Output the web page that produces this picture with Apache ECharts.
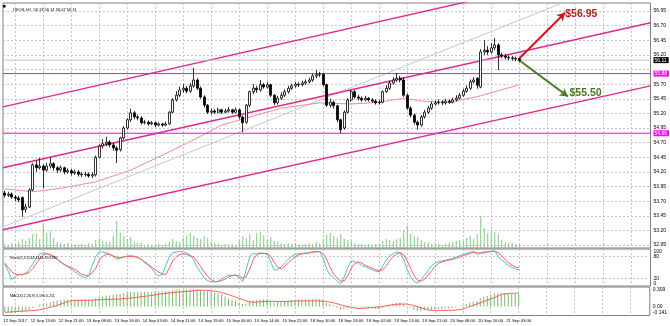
<!DOCTYPE html>
<html><head><meta charset="utf-8">
<script src="https://cdn.jsdelivr.net/npm/echarts@6/dist/echarts.min.js"></script>
<style>html,body{margin:0;padding:0;background:#fff}#c{width:670px;height:326px}</style>
</head><body><div id="c"></div>
<script>
// ---------------- DATA ----------------
const N_SLOTS = 185; // bar slots across the chart width (incl. empty shift area)
const opens = [53.84,53.80,53.82,53.77,53.75,53.76,53.56,53.60,53.89,54.32,
54.27,54.30,54.23,54.30,54.34,54.27,54.23,54.27,54.20,54.22,
54.18,54.20,54.16,54.15,54.16,54.13,54.15,54.45,54.64,54.68,
54.71,54.66,54.61,54.58,54.78,54.95,55.09,55.21,55.14,55.12,
55.04,55.05,55.02,55.04,55.00,55.02,55.00,55.02,55.22,55.43,
55.51,55.60,55.63,55.58,55.67,55.77,55.63,55.48,55.34,55.22,
55.24,55.22,55.26,55.22,55.24,55.26,55.22,55.26,55.14,55.05,
55.34,55.57,55.63,55.60,55.69,55.65,55.69,55.51,55.38,55.46,
55.51,55.57,55.63,55.67,55.70,55.69,55.72,55.74,55.77,55.84,
55.86,55.87,55.69,55.34,55.39,55.33,55.09,54.95,55.22,55.43,
55.57,55.48,55.46,55.43,55.46,55.43,55.41,55.38,55.39,55.57,
55.63,55.72,55.77,55.80,55.77,55.51,55.29,55.17,55.05,55.00,
55.14,55.22,55.29,55.36,55.38,55.39,55.38,55.41,55.39,55.43,
55.46,55.51,55.58,55.63,55.74,55.80,55.65,56.25,56.28,56.25,
56.32,56.37,56.20,56.18,56.16,56.15,56.14,56.13];
const highs = [53.88,53.86,53.85,53.80,53.79,53.78,53.66,53.92,54.35,54.40,
54.44,54.33,54.36,54.45,54.37,54.30,54.31,54.29,54.26,54.25,
54.24,54.23,54.20,54.20,54.19,54.19,54.48,54.67,54.76,54.80,
54.74,54.70,54.64,54.80,54.98,55.12,55.28,55.24,55.18,55.15,
55.09,55.08,55.07,55.06,55.05,55.04,55.06,55.24,55.46,55.58,
55.66,55.70,55.67,55.72,55.98,55.80,55.66,55.51,55.36,55.28,
55.27,55.30,55.28,55.28,55.31,55.28,55.30,55.28,55.16,55.36,
55.59,55.70,55.67,55.77,55.72,55.74,55.71,55.53,55.50,55.56,
55.61,55.67,55.71,55.74,55.73,55.76,55.78,55.81,55.88,55.94,
55.91,55.89,55.71,55.45,55.42,55.35,55.11,55.25,55.46,55.60,
55.60,55.52,55.49,55.50,55.48,55.46,55.44,55.43,55.59,55.68,
55.76,55.82,55.89,55.84,55.82,55.54,55.32,55.20,55.08,55.17,
55.26,55.33,55.40,55.42,55.44,55.43,55.45,55.44,55.47,55.51,
55.55,55.62,55.68,55.78,55.82,55.82,56.30,56.45,56.35,56.40,
56.49,56.40,56.24,56.22,56.19,56.18,56.17,56.14];
const lows = [53.76,53.77,53.74,53.70,53.68,53.43,53.50,53.58,53.87,54.20,
54.24,53.92,54.20,54.26,54.22,54.18,54.20,54.16,54.17,54.14,
54.15,54.12,54.11,54.12,54.10,54.10,54.12,54.43,54.60,54.64,
54.62,54.56,54.35,54.55,54.75,54.92,55.05,55.10,55.08,55.01,
55.01,54.99,55.00,54.97,54.98,54.97,54.98,55.00,55.20,55.40,
55.48,55.55,55.54,55.55,55.64,55.60,55.45,55.30,55.19,55.18,
55.19,55.20,55.19,55.20,55.21,55.19,55.20,55.10,54.88,55.02,
55.31,55.53,55.55,55.57,55.62,55.62,55.48,55.34,55.35,55.43,
55.48,55.54,55.60,55.64,55.65,55.66,55.69,55.71,55.74,55.80,
55.82,55.66,55.31,55.30,55.28,55.05,54.86,54.92,55.20,55.40,
55.45,55.42,55.40,55.41,55.40,55.38,55.35,55.35,55.37,55.55,
55.60,55.69,55.74,55.73,55.48,55.26,55.13,55.01,54.92,54.97,
55.11,55.19,55.26,55.33,55.35,55.34,55.35,55.36,55.37,55.40,
55.44,55.48,55.55,55.60,55.71,55.62,55.63,56.20,56.20,56.22,
56.28,55.94,56.14,56.12,56.11,56.10,56.09,56.07];
const closes = [53.80,53.82,53.77,53.75,53.72,53.55,53.60,53.89,54.32,54.27,
54.30,54.23,54.30,54.34,54.27,54.23,54.27,54.20,54.22,54.18,
54.20,54.16,54.15,54.16,54.13,54.15,54.45,54.64,54.68,54.71,
54.66,54.61,54.57,54.78,54.95,55.09,55.21,55.14,55.12,55.04,
55.05,55.02,55.04,55.00,55.02,55.00,55.02,55.22,55.43,55.51,
55.60,55.63,55.58,55.67,55.77,55.63,55.48,55.34,55.22,55.24,
55.22,55.26,55.22,55.24,55.26,55.22,55.26,55.14,55.04,55.34,
55.57,55.63,55.60,55.69,55.65,55.69,55.51,55.38,55.46,55.51,
55.57,55.63,55.67,55.70,55.69,55.72,55.74,55.77,55.84,55.86,
55.87,55.69,55.34,55.39,55.33,55.09,54.92,55.22,55.43,55.57,
55.48,55.46,55.43,55.46,55.43,55.41,55.38,55.39,55.57,55.63,
55.72,55.77,55.80,55.77,55.51,55.29,55.17,55.05,55.00,55.14,
55.22,55.29,55.36,55.38,55.39,55.38,55.41,55.39,55.43,55.46,
55.51,55.58,55.63,55.74,55.77,55.68,56.25,56.28,56.25,56.32,
56.37,56.20,56.18,56.16,56.15,56.14,56.13,56.11];
const volumes = [4,3,5,4,6,9,7,10,14,14,
9,24,15,17,10,6,5,4,5,3,
4,3,4,3,5,4,8,10,7,6,
6,12,27,15,12,9,11,6,5,5,
3,4,3,3,4,3,4,6,9,7,
6,10,12,15,12,10,9,12,10,6,
5,4,3,4,3,4,3,8,12,10,
14,8,15,16,13,9,11,7,6,5,
4,5,4,5,4,3,4,5,4,6,
5,9,13,15,12,10,14,9,8,7,
5,4,4,3,4,3,4,4,7,9,
8,7,9,10,18,22,14,12,11,8,
6,5,4,5,4,3,4,5,6,7,
8,7,10,12,9,14,32,20,15,17,
16,14,8,6,5,5,4,3];
const stochK = [60,40,18,25,31,30,35,45,60,75,
86,90,88,84,78,72,64,58,52,46,
38,32,26,23,28,55,80,92,92,90,
86,80,72,75,79,81,82,80,77,72,
63,56,47,35,27,32,55,78,90,92,
93,92,89,83,70,50,36,22,14,11,
11,13,20,25,30,28,30,22,12,45,
80,88,86,90,88,86,65,42,45,52,
62,72,80,86,87,88,89,90,93,94,
92,75,45,30,22,12,6,25,50,68,
66,62,55,52,48,44,40,38,55,70,
82,88,92,90,70,45,25,12,8,18,
30,42,55,62,66,68,70,72,75,78,
82,85,88,92,93,85,90,93,92,94,
95,80,70,62,55,50,46,44.14];
const stochD = [62,50,38,32,30,31,33,37,47,60,
74,84,87,85,80,72,66,58,53,49,
45,38,32,29,28,36,48,70,80,86,
85,81,78,76,78,80,80,79,77,72,
65,58,51,44,37,33,31,48,68,78,
85,87,85,82,78,66,52,38,26,17,
12,12,15,19,25,28,29,27,21,26,
46,71,85,88,88,88,80,64,51,46,
53,62,71,79,84,87,88,89,91,92,
93,87,71,50,32,21,13,14,27,48,
61,65,62,56,52,48,44,41,44,54,
69,80,87,90,84,68,47,27,15,13,
19,30,42,53,61,65,68,70,72,75,
78,82,85,88,91,90,89,89,92,93,
94,90,82,71,62,56,51,49.68];
const macdMain = [-0.09,-0.09,-0.10,-0.10,-0.09,-0.09,-0.07,-0.05,-0.02,0.00,
0.03,0.04,0.05,0.07,0.08,0.09,0.10,0.11,0.11,0.11,
0.11,0.11,0.11,0.11,0.11,0.11,0.13,0.15,0.16,0.17,
0.18,0.19,0.19,0.20,0.21,0.22,0.23,0.23,0.23,0.23,
0.23,0.23,0.23,0.24,0.24,0.24,0.24,0.25,0.26,0.27,
0.27,0.27,0.27,0.27,0.27,0.27,0.26,0.25,0.24,0.23,
0.22,0.21,0.19,0.16,0.13,0.11,0.09,0.07,0.04,0.05,
0.08,0.10,0.10,0.11,0.11,0.11,0.09,0.07,0.07,0.07,
0.08,0.09,0.10,0.10,0.11,0.11,0.11,0.11,0.12,0.12,
0.12,0.10,0.06,0.04,0.02,-0.02,-0.05,-0.04,-0.02,0.00,
0.00,-0.01,-0.02,-0.02,-0.03,-0.03,-0.04,-0.04,-0.02,0.01,
0.03,0.05,0.06,0.06,0.04,0.01,-0.02,-0.05,-0.07,-0.07,
-0.06,-0.05,-0.05,-0.04,-0.04,-0.04,-0.03,-0.03,-0.02,-0.01,
0.00,0.02,0.04,0.06,0.08,0.09,0.13,0.15,0.17,0.19,
0.21,0.21,0.21,0.21,0.20,0.20,0.20,0.196];
const macdSignal = [-0.090,-0.088,-0.085,-0.080,-0.075,-0.072,-0.070,-0.067,-0.063,-0.060,
-0.050,-0.040,-0.025,-0.010,0.000,0.020,0.040,0.060,0.080,0.090,
0.095,0.097,0.099,0.100,0.100,0.100,0.105,0.107,0.110,0.112,
0.114,0.116,0.118,0.120,0.125,0.130,0.135,0.140,0.147,0.154,
0.161,0.168,0.175,0.184,0.193,0.201,0.210,0.215,0.220,0.225,
0.230,0.235,0.240,0.245,0.250,0.255,0.260,0.258,0.255,0.250,
0.245,0.235,0.220,0.205,0.190,0.170,0.150,0.130,0.110,0.090,
0.075,0.070,0.070,0.075,0.080,0.080,0.085,0.085,0.080,0.080,
0.080,0.080,0.085,0.085,0.090,0.090,0.090,0.090,0.090,0.090,
0.090,0.085,0.080,0.070,0.060,0.045,0.030,0.015,0.000,-0.010,
-0.020,-0.030,-0.030,-0.025,-0.020,-0.015,-0.010,-0.005,0.000,0.010,
0.020,0.030,0.035,0.040,0.040,0.040,0.030,0.015,0.000,-0.020,
-0.035,-0.050,-0.060,-0.060,-0.060,-0.060,-0.060,-0.060,-0.060,-0.055,
-0.050,-0.040,-0.020,0.000,0.020,0.040,0.060,0.080,0.100,0.120,
0.140,0.165,0.190,0.200,0.205,0.210,0.210,0.211];
// moving average: [bar index, price]
const maPoints = [[0,53.91],[8,53.86],[16,53.92],[26,54.03],[36,54.23],[48,54.57],[56,54.81],
[62,55.00],[69,55.12],[79,55.29],[90,55.38],[99,55.36],[107,55.39],[114,55.46],[119,55.41],
[127,55.39],[136,55.50],[147,55.69]];
// trend lines: [bar index, price] at the chart's left and right edges
const channelUpper = [[-0.5,55.31],[184.5,57.82]];
const channelMiddle = [[-0.5,54.27],[184.5,56.75]];
const channelLower = [[-0.5,53.21],[184.5,55.67]];
const grayTrend = [[-0.5,53.26],[184.5,57.69]];
const hLevels = [55.88, 54.86];
const bidPrice = 56.11;
// target arrows: start, up target, down target; captions placed at their left edge
const arrowStart = [146.7, 56.12];
const arrowUpEnd = [160.1, 56.92];
const arrowDownEnd = [160.9, 55.49];
const targetTexts = ['$56.95', '$55.50'];
const targetPos = [[160.0, 56.905], [161.2, 55.55]];
// axis ticks
const priceMin = 52.95, priceMax = 56.95, priceStep = 0.25;
const stochLevels = [20, 80];
const stochTicks = [0, 20, 80, 100];
const macdMin = -0.141, macdMax = 0.309;
const macdTicks = [-0.141, 0, 0.309];
const timeLabelIdx = [3,11,19,27,35,43,51,59,67,75,83,91,99,107,115,123,131,139,147];
const timeLabelText = ['12 Sep 2017','12 Sep 13:00','12 Sep 21:00','13 Sep 08:00','13 Sep 16:00',
'14 Sep 03:00','14 Sep 11:00','14 Sep 19:00','15 Sep 06:00','15 Sep 14:00','15 Sep 22:00',
'18 Sep 10:00','18 Sep 18:00','19 Sep 02:00','19 Sep 13:00','19 Sep 21:00','20 Sep 08:00',
'20 Sep 16:00','21 Sep 03:00'];
const titleMain = 'UKOIL,H1  56.13 56.14 56.07 56.11';
const titleStoch = 'Stoch(5,3,3) 44.1444 49.6785';
const titleMacd = 'MACD(12,26,9) 0.196 0.211';

// ---------------- LAYOUT / STYLE ----------------
const FONT = 'Liberation Sans';
const L = 3, W = 647.5;
const mainTop = 3, mainH = 245;       // pane 3..248
const lblTop = 11, lblH = 234;        // 56.95 at y=11, 52.95 at y=245
const pxPerUnit = lblH / (priceMax - priceMin);
const paneMax = priceMax + (lblTop - mainTop) / pxPerUnit;
const paneMin = priceMin - ((mainTop + mainH) - (lblTop + lblH)) / pxPerUnit;
const GRID_C = '#c4c4c4';
const FRAME_C = '#808080';
const captionColors = ['#b0201f', '#4a7524'];

const slots = Array.from({length: N_SLOTS}, (_, i) => 'b' + i);
const labelAt = {};
timeLabelIdx.forEach((idx, k) => { labelAt[idx] = timeLabelText[k]; });
const gStep = timeLabelIdx[1] - timeLabelIdx[0], gOff = timeLabelIdx[0] % gStep;
const vGrid = (idx) => idx % gStep === gOff;
const xLeft = -0.5, xRight = N_SLOTS - 0.5;

const candleData = opens.map((o, i) => [o, closes[i], lows[i], highs[i]]);

function catAxis(gridIndex, withGrid, withLabels) {
  return {
    type: 'category', gridIndex, data: slots, boundaryGap: true,
    axisLine: {show: false}, axisTick: {show: false},
    axisLabel: withLabels ? {
      show: true, interval: (i) => vGrid(i), formatter: (v, i) => labelAt[i] || '',
      fontSize: 4.2, color: '#000', margin: 3, fontFamily: FONT
    } : {show: false},
    splitLine: withGrid ? {show: true, alignWithLabel: true, interval: (i) => vGrid(i),
      lineStyle: {color: GRID_C, width: 1, type: [2, 2]}} : {show: false}
  };
}
function flatLine(name, pts, color, width, z) {
  return {type: 'line', name, xAxisIndex: 1, yAxisIndex: 0, data: pts, showSymbol: false,
    symbol: 'none', clip: true, silent: true, lineStyle: {color, width, opacity: 1}, z: z || 3};
}
function levelSeries(value, lineColor, boxColor) {
  const s = flatLine('level', [[xLeft, value], [xRight, value]], lineColor, 1, 4);
  s.clip = false;
  s.endLabel = {show: true, distance: 3, formatter: () => value.toFixed(2),
    backgroundColor: boxColor, color: '#fff', fontSize: 5, padding: [1, 2, 0, 1], fontFamily: FONT};
  return s;
}

const option = {
  animation: false,
  backgroundColor: '#ffffff',
  textStyle: {fontFamily: FONT},
  title: [
    {text: titleMain, left: 8, top: 3, textStyle: {fontSize: 4, fontWeight: 'normal', color: '#000', fontFamily: FONT}},
    {text: titleStoch, left: 5, top: 251, textStyle: {fontSize: 3.6, fontWeight: 'normal', color: '#000', fontFamily: FONT}},
    {text: titleMacd, left: 5, top: 289, textStyle: {fontSize: 3.6, fontWeight: 'normal', color: '#000', fontFamily: FONT}}
  ],
  graphic: [{type: 'rect', left: 3, top: 5, shape: {width: 2.5, height: 2.5}, style: {fill: '#000'}}],
  grid: [
    {left: L, top: mainTop, width: W, height: mainH, show: true, borderColor: FRAME_C, borderWidth: 1},
    {left: L, top: lblTop, width: W, height: lblH},
    {left: L, top: 214, width: W, height: 34},
    {left: L, top: 249, width: W, height: 37, show: true, borderColor: FRAME_C, borderWidth: 1},
    {left: L, top: 287, width: W, height: 28.5, show: true, borderColor: FRAME_C, borderWidth: 1}
  ],
  xAxis: [
    catAxis(0, true, false),
    {type: 'value', gridIndex: 0, min: xLeft, max: xRight, show: false},
    catAxis(1, false, false),
    catAxis(2, false, false),
    catAxis(3, true, false),
    catAxis(4, true, true)
  ],
  yAxis: [
    {type: 'value', gridIndex: 0, min: paneMin, max: paneMax, show: false, splitLine: {show: false}},
    {type: 'value', gridIndex: 1, min: priceMin, max: priceMax, interval: priceStep, position: 'right',
      axisLine: {show: false}, axisTick: {show: false},
      axisLabel: {fontSize: 5, color: '#000', margin: 3, fontFamily: FONT,
        formatter: (v) => ([bidPrice].concat(hLevels).some(h => Math.abs(h - v) < 0.08) ? '' : v.toFixed(2))},
      splitLine: {show: true, lineStyle: {color: GRID_C, width: 1, type: [2, 2]}}},
    {type: 'value', gridIndex: 2, min: 0, max: 34, show: false, splitLine: {show: false}},
    {type: 'value', gridIndex: 3, min: 0, max: 100, position: 'right',
      axisLine: {show: false}, axisTick: {show: false}, splitLine: {show: false},
      axisLabel: {customValues: stochTicks, fontSize: 5, color: '#000', margin: 3, fontFamily: FONT,
        verticalAlignMaxLabel: 'top', verticalAlignMinLabel: 'bottom'}},
    {type: 'value', gridIndex: 4, min: macdMin, max: macdMax, position: 'right',
      axisLine: {show: false}, axisTick: {show: false}, splitLine: {show: false},
      axisLabel: {customValues: macdTicks, fontSize: 5, color: '#000', margin: 3, fontFamily: FONT,
        formatter: (v) => (Math.abs(v) < 1e-9 ? '0.00' : String(v)),
        verticalAlignMaxLabel: 'top', verticalAlignMinLabel: 'bottom'}}
  ],
  series: [
    // volume
    {type: 'bar', xAxisIndex: 3, yAxisIndex: 2, data: volumes, barWidth: 1, silent: true,
      itemStyle: {color: '#7fc77f'}, z: 1},
    // trend lines and levels
    flatLine('gray', grayTrend, '#c8c8c8', 1),
    flatLine('upper', channelUpper, '#dd2a8f', 1.4),
    flatLine('middle', channelMiddle, '#dd2a8f', 1.4),
    flatLine('lower', channelLower, '#dd2a8f', 1.4),
    flatLine('ma', maPoints, '#f28c8c', 1),
    levelSeries(bidPrice, '#c4c4c4', '#000000'),
    levelSeries(hLevels[0], '#ff00ff', '#ff00ff'),
    levelSeries(hLevels[1], '#ff00ff', '#ff00ff'),
    // candles
    {type: 'candlestick', xAxisIndex: 0, yAxisIndex: 0, data: candleData, barWidth: 2.7, silent: true,
      itemStyle: {color: '#ffffff', color0: '#000000', borderColor: '#000000', borderColor0: '#000000', borderWidth: 0.8}, z: 5},
    // arrows
    {type: 'line', xAxisIndex: 1, yAxisIndex: 0, data: [], silent: true, z: 6,
      markLine: {silent: true, animation: false, symbol: ['none', 'arrow'], symbolSize: [7, 8], label: {show: false},
        data: [
          [{coord: arrowStart, lineStyle: {color: '#d01818', width: 2, type: 'solid'}}, {coord: arrowUpEnd}],
          [{coord: arrowStart, lineStyle: {color: '#4e7d2b', width: 2, type: 'solid'}}, {coord: arrowDownEnd}]
        ]}},
    // captions
    ...targetTexts.map((t, k) => ({type: 'scatter', xAxisIndex: 1, yAxisIndex: 0, symbol: 'circle', symbolSize: 1,
      silent: true, z: 7, itemStyle: {color: 'rgba(0,0,0,0)'},
      data: [{value: targetPos[k], name: t}],
      label: {show: true, position: 'right', distance: 0, formatter: (p) => p.name, fontSize: 10.5,
        fontWeight: 'bold', fontFamily: FONT, color: captionColors[k], opacity: 1, textBorderWidth: 0}})),
    // stochastic
    {type: 'line', xAxisIndex: 4, yAxisIndex: 3, data: stochK, showSymbol: false, symbol: 'none', silent: true,
      lineStyle: {color: '#4cc3c3', width: 1}, z: 3},
    {type: 'line', xAxisIndex: 4, yAxisIndex: 3, data: stochLevels.length ? [] : [], silent: true, z: 2},
    ...stochLevels.map(v => ({type: 'line', xAxisIndex: 4, yAxisIndex: 3, silent: true, z: 2, showSymbol: false,
      symbol: 'none', data: slots.map(() => v), lineStyle: {color: '#b8b8b8', width: 1, type: [2, 2]}})),
    {type: 'line', xAxisIndex: 4, yAxisIndex: 3, data: stochD, showSymbol: false, symbol: 'none', silent: true,
      lineStyle: {color: '#ff5c5c', width: 1}, z: 4},
    // MACD
    {type: 'bar', xAxisIndex: 5, yAxisIndex: 4, data: macdMain, barWidth: 1, silent: true,
      itemStyle: {color: '#76bb6a'}, z: 2},
    {type: 'line', xAxisIndex: 5, yAxisIndex: 4, data: macdSignal, showSymbol: false, symbol: 'none', silent: true,
      lineStyle: {color: '#ff5c5c', width: 1}, z: 3}
  ]
};

const chart = echarts.init(document.getElementById('c'), null, {renderer: 'canvas'});
chart.setOption(option);
</script>
</body></html>
